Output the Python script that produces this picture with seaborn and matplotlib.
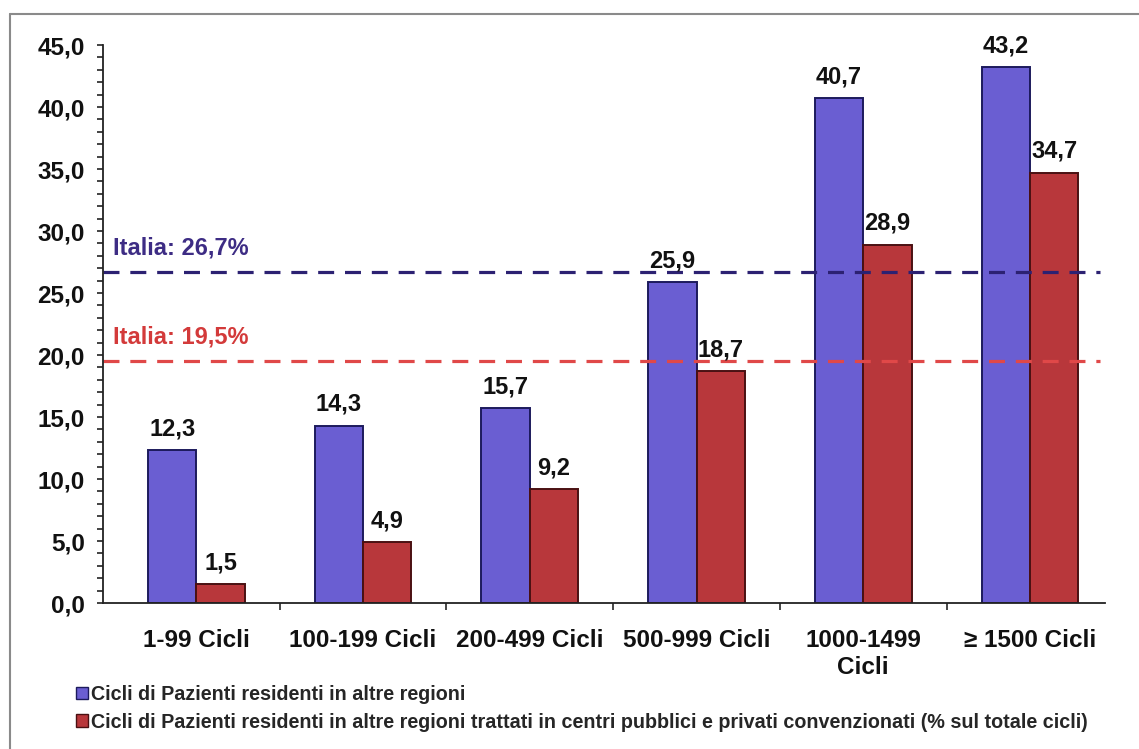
import seaborn as sns
import matplotlib.pyplot as plt
import pandas as pd
from matplotlib.patches import Patch
from matplotlib.lines import Line2D
from matplotlib.ticker import FuncFormatter, MultipleLocator, FixedLocator

# Dati
categorie = ["1-99 Cicli", "100-199 Cicli", "200-499 Cicli", "500-999 Cicli",
             "1000-1499\nCicli", "≥ 1500 Cicli"]
serie_nomi = ["Cicli di Pazienti residenti in altre regioni",
              "Cicli di Pazienti residenti in altre regioni trattati in centri pubblici e privati convenzionati (% sul totale cicli)"]
altre_regioni = [12.3, 14.3, 15.7, 25.9, 40.7, 43.2]
centri_pubblici = [1.5, 4.9, 9.2, 18.7, 28.9, 34.7]
italia_valori = [26.7, 19.5]
italia_etichette = ["Italia: 26,7%", "Italia: 19,5%"]

df = pd.DataFrame({
    "Classe": categorie * 2,
    "Valore": altre_regioni + centri_pubblici,
    "Serie": [serie_nomi[0]] * 6 + [serie_nomi[1]] * 6,
})

colori = ["#6a5ed2", "#b8373b"]
bordi = ["#1c1a5c", "#4a1012"]
colori_linee = ["#2c2172", "#e04848"]
colori_testo = ["#3d2c84", "#d33a3a"]

sns.set_style("white")
plt.rcParams["font.family"] = ["Liberation Sans", "DejaVu Sans"]
plt.rcParams["font.weight"] = "bold"

fig = plt.figure(figsize=(11.39, 7.49), dpi=100)
ax = fig.add_axes([103 / 1139, 1 - 603 / 749, (1105 - 103) / 1139, (603 - 45) / 749])

sns.barplot(data=df, x="Classe", y="Valore", hue="Serie", palette=colori,
            width=0.58, ax=ax, legend=False, saturation=1)

# bordi scuri delle barre
for i, cont in enumerate(ax.containers):
    for p in cont:
        p.set_edgecolor(bordi[i])
        p.set_linewidth(1.4)
    ax.bar_label(cont, labels=[f"{v:.1f}".replace(".", ",") for v in cont.datavalues],
                 padding=7, fontsize=17, fontweight="bold", color="#111111")

# linee Italia
for val, lab, c, ct in zip(italia_valori, italia_etichette, colori_linee, colori_testo):
    ax.axhline(val, color=c, lw=2.3, ls=(0, (5, 3.4)), xmin=0, xmax=0.995, zorder=1)
    ax.text(-0.5, val + 1.0, lab, color=ct, fontsize=17, fontweight="bold",
            ha="left", va="bottom")

ax.set_ylim(0, 45)
ax.set_xlim(-0.56, 5.45)
ax.yaxis.set_major_locator(MultipleLocator(5))
ax.yaxis.set_minor_locator(MultipleLocator(1))
ax.yaxis.set_major_formatter(FuncFormatter(lambda v, p: f"{v:.1f}".replace(".", ",")))
ax.tick_params(axis="y", which="both", direction="out", left=True, length=4, width=1.2,
               labelsize=17.5, pad=9, color="#222222")
ax.tick_params(axis="x", which="major", length=0, labelsize=17.5, pad=19)
ax.xaxis.set_minor_locator(FixedLocator([0.5, 1.5, 2.5, 3.5, 4.5]))
ax.tick_params(axis="x", which="minor", bottom=True, direction="out", length=5, width=1.2)
for lbl in ax.get_xticklabels() + ax.get_yticklabels():
    lbl.set_fontweight("bold")
    lbl.set_color("#111111")

ax.set_xlabel("")
ax.set_ylabel("")
sns.despine(ax=ax)
for s in ["left", "bottom"]:
    ax.spines[s].set_color("#222222")
    ax.spines[s].set_linewidth(1.3)

# legenda
handles = [Patch(facecolor=colori[i], edgecolor=bordi[i], label=serie_nomi[i]) for i in range(2)]
fig.legend(handles=handles, loc="upper left", bbox_to_anchor=(58 / 1139, 1 - 667 / 749),
           frameon=False, handlelength=0.6, handleheight=0.6,
           handletextpad=0.15, labelspacing=0.45, prop={"weight": "bold", "size": 14.2})

# cornice
fig.add_artist(Line2D([10 / 1139, 10 / 1139], [0, 1 - 14 / 749], color="#8a8a8a", lw=1.5))
fig.add_artist(Line2D([10 / 1139, 1], [1 - 14 / 749, 1 - 14 / 749], color="#8a8a8a", lw=1.5))

fig.savefig("out.png", dpi=100, facecolor="white")
